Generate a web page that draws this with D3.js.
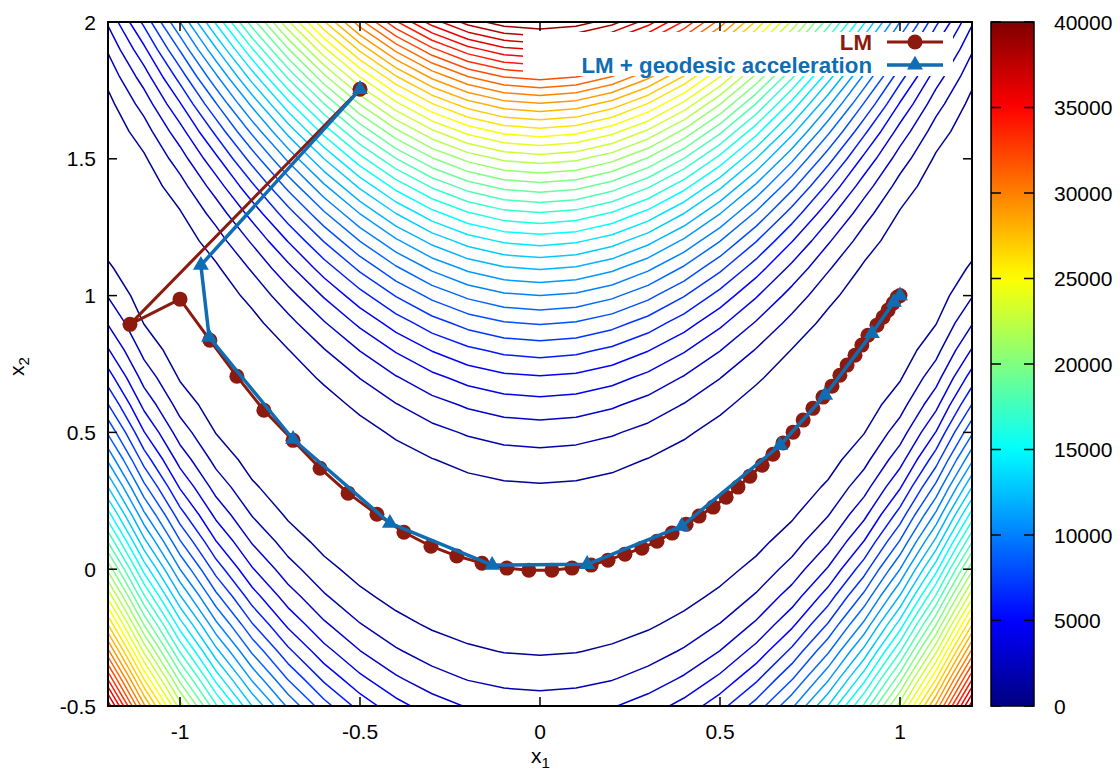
<!DOCTYPE html>
<html>
<head>
<meta charset="utf-8">
<script src="https://cdn.jsdelivr.net/npm/d3@7"></script>
<style>
  html, body { margin: 0; padding: 0; background: #fff; }
  text { font-family: "Liberation Sans", Arial, Helvetica, sans-serif; fill: #000; }
</style>
</head>
<body>
<svg id="chart" width="1120" height="774"></svg>
<script>
// ---------------- data ----------------
const xTicks = [-1, -0.5, 0, 0.5, 1];
const yTicks = [-0.5, 0, 0.5, 1, 1.5, 2];
const cbTicks = [0, 5000, 10000, 15000, 20000, 25000, 30000, 35000, 40000];
const contourLevels = d3.range(1000, 40001, 1000);

// LM iterates (x1, x2)
const lmX = [-0.5, -1.139, -1.0, -0.917, -0.842, -0.767, -0.686, -0.611, -0.533, -0.453, -0.378, -0.303, -0.231, -0.161,
  -0.092, -0.031, 0.033, 0.089, 0.142, 0.189, 0.236, 0.283, 0.325, 0.367, 0.406, 0.442, 0.481, 0.517, 0.550, 0.583,
  0.617, 0.647, 0.675, 0.703, 0.731, 0.758, 0.786, 0.811, 0.833, 0.853, 0.875, 0.894, 0.911, 0.936, 0.953, 0.967,
  0.981, 0.992, 1.0];
const lmY = [1.754, 0.895, 0.987, 0.837, 0.705, 0.581, 0.471, 0.369, 0.278, 0.201, 0.135, 0.084, 0.048, 0.022,
  0.004, -0.004, -0.004, 0.004, 0.015, 0.033, 0.055, 0.077, 0.102, 0.132, 0.164, 0.194, 0.227, 0.263, 0.300, 0.340,
  0.380, 0.420, 0.461, 0.501, 0.545, 0.588, 0.629, 0.669, 0.709, 0.746, 0.782, 0.819, 0.855, 0.892, 0.921, 0.947,
  0.972, 0.994, 1.0];

// LM + geodesic acceleration iterates
const geoX = [-0.5, -0.942, -0.919, -0.686, -0.417, -0.133, 0.131, 0.394, 0.667, 0.792, 0.922, 0.983, 1.0];
const geoY = [1.754, 1.111, 0.848, 0.475, 0.168, 0.015, 0.018, 0.157, 0.453, 0.636, 0.862, 0.976, 1.0];

const seriesNames = ["LM", "LM + geodesic acceleration"];
const seriesColors = ["#8c1a0f", "#0f6db3"];

// ---------------- setup ----------------
const svg = d3.select("#chart");
const L = 108, R = 972, T = 22, B = 706;
const x = d3.scaleLinear([-1.2, 1.2], [L, R]);
const y = d3.scaleLinear([-0.5, 2], [B, T]);

function jet(t) {
  const c = v => Math.max(0, Math.min(1, v));
  const r = c(1.5 - Math.abs(4 * t - 3));
  const g = c(1.5 - Math.abs(4 * t - 2));
  const b = c(1.5 - Math.abs(4 * t - 1));
  return d3.rgb(r * 255, g * 255, b * 255).formatHex();
}
const cmax = 40000;

// objective: residuals f1 = 100 (x2 - x1^2), f2 = 1 - x1
const phi = (a, b) => 10000 * (b - a * a) ** 2 + (1 - a) ** 2;

// ---------------- contours ----------------
const step = 0.1;
const gx0 = -1.3, gy0 = -0.6;
const nx = 27, ny = 28;
const values = new Array(nx * ny);
for (let j = 0; j < ny; j++) for (let i = 0; i < nx; i++)
  values[j * nx + i] = phi(gx0 + i * step, gy0 + j * step);

const contours = d3.contours().size([nx, ny]).thresholds(contourLevels)(values);

svg.append("defs").append("clipPath").attr("id", "plotclip")
  .append("rect").attr("x", L).attr("y", T).attr("width", R - L).attr("height", B - T);

const cx = c => x(gx0 + (c - 0.5) * step);
const cy = c => y(gy0 + (c - 0.5) * step);
function ringPath(geom) {
  let s = "";
  geom.coordinates.forEach(poly => poly.forEach(ring => {
    ring.forEach((p, k) => { s += (k ? "L" : "M") + cx(p[0]).toFixed(2) + "," + cy(p[1]).toFixed(2); });
    s += "Z";
  }));
  return s;
}
const cg = svg.append("g").attr("clip-path", "url(#plotclip)");
cg.selectAll("path.contour").data(contours).join("path")
  .attr("class", "contour")
  .attr("d", ringPath)
  .attr("fill", "none")
  .attr("stroke", d => jet(d.value / cmax))
  .attr("stroke-width", 1.5)
  .attr("stroke-linejoin", "round");

// ---------------- legend box ----------------
svg.append("rect").attr("x", 523).attr("y", 32).attr("width", 430).attr("height", 44).attr("fill", "#fff");

// ---------------- paths ----------------
const lmPts = lmX.map((v, i) => [v, lmY[i]]);
const geoPts = geoX.map((v, i) => [v, geoY[i]]);
const line = d3.line().x(d => x(d[0])).y(d => y(d[1]));

const pg = svg.append("g").attr("clip-path", "url(#plotclip)");
pg.append("path").attr("d", line(lmPts)).attr("fill", "none")
  .attr("stroke", seriesColors[0]).attr("stroke-width", 3).attr("stroke-linejoin", "round");
pg.selectAll("circle.lm").data(lmPts).join("circle").attr("class", "lm")
  .attr("cx", d => x(d[0])).attr("cy", d => y(d[1])).attr("r", 7.5).attr("fill", seriesColors[0]);

pg.append("path").attr("d", line(geoPts)).attr("fill", "none")
  .attr("stroke", seriesColors[1]).attr("stroke-width", 3.5).attr("stroke-linejoin", "round");
const tri = d3.symbol().type(d3.symbolTriangle).size(110);
pg.selectAll("path.geo").data(geoPts).join("path").attr("class", "geo")
  .attr("d", tri).attr("transform", d => `translate(${x(d[0])},${y(d[1])})`)
  .attr("fill", seriesColors[1]);

// ---------------- legend ----------------
const legY = [42, 65];
seriesNames.forEach((name, i) => {
  const lg = svg.append("g");
  lg.append("text").attr("x", 872).attr("y", legY[i] + 8).attr("text-anchor", "end")
    .attr("font-size", 22.3).attr("font-weight", "bold").style("fill", seriesColors[i]).text(name);
  lg.append("line").attr("x1", 887).attr("x2", 943).attr("y1", legY[i]).attr("y2", legY[i])
    .attr("stroke", seriesColors[i]).attr("stroke-width", i ? 3.5 : 3);
  if (i === 0) lg.append("circle").attr("cx", 915).attr("cy", legY[i]).attr("r", 7.5).attr("fill", seriesColors[i]);
  else lg.append("path").attr("d", tri).attr("transform", `translate(915,${legY[i]})`).attr("fill", seriesColors[i]);
});

// ---------------- axes / frame ----------------
const tickLen = 9;
const ax = svg.append("g").attr("stroke", "#000").attr("stroke-width", 1.5);
xTicks.forEach(v => {
  ax.append("line").attr("x1", x(v)).attr("x2", x(v)).attr("y1", B).attr("y2", B - tickLen);
  ax.append("line").attr("x1", x(v)).attr("x2", x(v)).attr("y1", T).attr("y2", T + tickLen);
});
yTicks.forEach(v => {
  ax.append("line").attr("x1", L).attr("x2", L + tickLen).attr("y1", y(v)).attr("y2", y(v));
  ax.append("line").attr("x1", R).attr("x2", R - tickLen).attr("y1", y(v)).attr("y2", y(v));
});
svg.append("rect").attr("x", L).attr("y", T).attr("width", R - L).attr("height", B - T)
  .attr("fill", "none").attr("stroke", "#000").attr("stroke-width", 2);

const fmt = v => String(v);
const tickFont = 21;
svg.selectAll("text.xt").data(xTicks).join("text").attr("class", "xt")
  .attr("x", d => x(d)).attr("y", 739).attr("text-anchor", "middle").attr("font-size", tickFont).text(fmt);
svg.selectAll("text.yt").data(yTicks).join("text").attr("class", "yt")
  .attr("x", 96).attr("y", d => y(d) + 7.5).attr("text-anchor", "end").attr("font-size", tickFont).text(fmt);

// axis titles
const xl = svg.append("text").attr("x", 531).attr("y", 763).attr("font-size", 21);
xl.append("tspan").text("x");
xl.append("tspan").attr("dy", 5).attr("font-size", 15).text("1");
const yl = svg.append("text").attr("transform", "translate(24,376) rotate(-90)").attr("font-size", 21);
yl.append("tspan").text("x");
yl.append("tspan").attr("dy", 5).attr("font-size", 15).text("2");

// ---------------- colorbar ----------------
const cbL = 991, cbR = 1034;
const cbScale = d3.scaleLinear([0, cmax], [B, T]);
const grad = svg.select("defs").append("linearGradient").attr("id", "jetgrad")
  .attr("x1", 0).attr("y1", 1).attr("x2", 0).attr("y2", 0);
d3.range(0, 1.0001, 0.02).forEach(t => grad.append("stop").attr("offset", t).attr("stop-color", jet(t)));
svg.append("rect").attr("x", cbL).attr("y", T).attr("width", cbR - cbL).attr("height", B - T)
  .attr("fill", "url(#jetgrad)").attr("stroke", "#000").attr("stroke-width", 1.5);
const cbg = svg.append("g").attr("stroke", "#000").attr("stroke-width", 1.5);
cbTicks.forEach(v => {
  cbg.append("line").attr("x1", cbL).attr("x2", cbL + 10).attr("y1", cbScale(v)).attr("y2", cbScale(v));
  cbg.append("line").attr("x1", cbR).attr("x2", cbR - 10).attr("y1", cbScale(v)).attr("y2", cbScale(v));
});
svg.selectAll("text.cb").data(cbTicks).join("text").attr("class", "cb")
  .attr("x", 1054).attr("y", d => cbScale(d) + 7.5).attr("font-size", tickFont).text(fmt);
</script>
</body>
</html>
